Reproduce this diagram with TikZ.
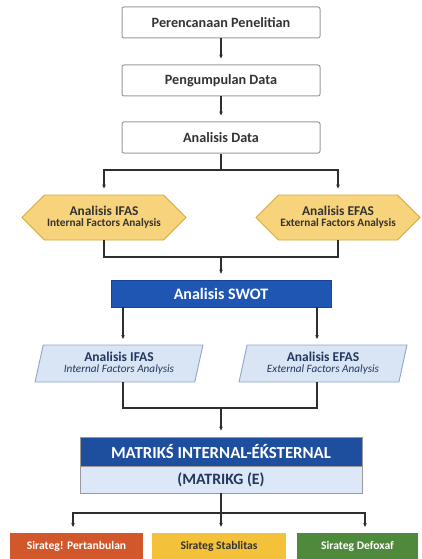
\documentclass[tikz,border=0pt]{standalone}
\usepackage{fontspec}
\setmainfont{Carlito}
\usetikzlibrary{shapes.geometric,shapes.symbols,arrows.meta}
\definecolor{lineC}{HTML}{2E2E2E}
\definecolor{boxB}{HTML}{9A9A9A}
\definecolor{txtG}{HTML}{333333}
\definecolor{hexF}{HTML}{F7D47C}
\definecolor{hexB}{HTML}{D8A93C}
\definecolor{swotF}{HTML}{1F56B3}
\definecolor{parF}{HTML}{D9E5F5}
\definecolor{parB}{HTML}{8FA6C8}
\definecolor{navyT}{HTML}{23375F}
\definecolor{matF}{HTML}{1E4F9E}
\definecolor{matL}{HTML}{DCE8F7}
\definecolor{oraF}{HTML}{D2572B}
\definecolor{yelF}{HTML}{F3C13A}
\definecolor{greF}{HTML}{4F8A3C}
\begin{document}
\begin{tikzpicture}[x=1pt,y=-1pt,
  conn/.style={draw=lineC,line width=1.1pt},
  arr/.style={conn,-{Stealth[length=4pt,width=3.6pt]},shorten >=6pt},
  stepbox/.style={draw=boxB,line width=1pt,rounded corners=2pt,fill=white,
    minimum width=198pt,minimum height=31pt,inner sep=0pt,
    font=\bfseries\fontsize{14.2}{16}\selectfont,text=txtG},
  hexbox/.style={signal,signal to=west and east,draw=hexB,fill=hexF,line width=0.9pt,
    minimum width=164pt,minimum height=45pt,inner sep=0pt,align=center,text=txtG},
  parbox/.style={trapezium,trapezium left angle=75,trapezium right angle=105,
    trapezium stretches=true,draw=parB,fill=parF,line width=0.9pt,
    minimum width=168pt,minimum height=37pt,inner sep=0pt,align=center,text=navyT},
  endbox/.style={minimum height=26pt,inner sep=0pt,font=\bfseries\fontsize{11.6}{13}\selectfont}
]
\useasboundingbox (0,0) rectangle (422,559);

\node[stepbox] (b1) at (221,22.5) {Perencanaan Penelitian};
\node[stepbox] (b2) at (221,80.5) {Pengumpulan Data};
\node[stepbox] (b3) at (221,137.5) {Analisis Data};

\node[hexbox] (h1) at (104,217.5) {{\bfseries\fontsize{13.4}{15}\selectfont Analisis IFAS}\\[-1pt]{\bfseries\fontsize{11.3}{13}\selectfont Internal Factors Analysis}};
\node[hexbox] (h2) at (338,217.5) {{\bfseries\fontsize{13.4}{15}\selectfont Analisis EFAS}\\[-1pt]{\bfseries\fontsize{11.3}{13}\selectfont External Factors Analysis}};

\node[draw=swotF!80!black,fill=swotF,line width=0.6pt,minimum width=220pt,minimum height=27pt,inner sep=0pt,
  text=white,font=\bfseries\fontsize{16}{18}\selectfont] (sw) at (221,293.5) {Analisis SWOT};

\node[parbox] (p1) at (119,363.5) {{\bfseries\fontsize{13.5}{15}\selectfont Analisis IFAS}\\[-1pt]{\itshape\fontsize{11.2}{13}\selectfont Internal Factors Analysis}};
\node[parbox] (p2) at (323,363.5) {{\bfseries\fontsize{13.5}{15}\selectfont Analisis EFAS}\\[-1pt]{\itshape\fontsize{11.2}{13}\selectfont External Factors Analysis}};

\node[draw=boxB,fill=matF,line width=0.8pt,minimum width=282pt,minimum height=29pt,inner sep=0pt,
  text=white,font=\bfseries\fontsize{16.8}{18}\selectfont] (m1) at (221,451.5) {MATRIKŚ INTERNAL-ÉḰSTERNAL};
\node[draw=boxB,fill=matL,line width=0.8pt,minimum width=282pt,minimum height=27pt,inner sep=0pt,
  text=navyT,font=\bfseries\fontsize{15.8}{17}\selectfont] (m2) at (221,479.5) {(MATRIKG (E)};

\node[endbox,fill=oraF,minimum width=133pt,text=white] (s1) at (76.5,546) {Sirateg! Pertanbulan};
\node[endbox,fill=yelF,minimum width=134pt,text=txtG] (s2) at (219,546) {Sirateg Stablitas};
\node[endbox,fill=greF,minimum width=121pt,text=white] (s3) at (357.5,546) {Sirateg Defoxaf};

% connectors
\draw[arr] (b1.south) -- (b2.north);
\draw[arr] (b2.south) -- (b3.north);

\coordinate (j1) at (221,170);
\draw[conn] (b3.south) -- (j1);
\draw[arr] (j1) -| (h1.north);
\draw[arr] (j1) -| (h2.north);

\coordinate (j2) at (221,257);
\draw[conn] (h1.south) |- (j2);
\draw[conn] (h2.south) |- (j2);
\draw[arr] (j2) -- (sw.north);

\coordinate (t1) at (123,345);
\coordinate (t2) at (317,345);
\draw[arr] (sw.south -| t1) -- (t1);
\draw[arr] (sw.south -| t2) -- (t2);

\coordinate (u1) at (123,382);
\coordinate (u2) at (317,382);
\coordinate (j3) at (221,408);
\draw[conn] (u1) |- (j3);
\draw[conn] (u2) |- (j3);
\draw[arr] (j3) -- (m1.north);

\coordinate (j4) at (221,513);
\coordinate (v1) at (73,533);
\coordinate (v3) at (365,533);
\draw[conn] (m2.south) -- (j4);
\draw[arr] (j4) -| (v1);
\draw[arr] (j4) -- (j4 |- s2.north);
\draw[arr] (j4) -| (v3);
\end{tikzpicture}
\end{document}
